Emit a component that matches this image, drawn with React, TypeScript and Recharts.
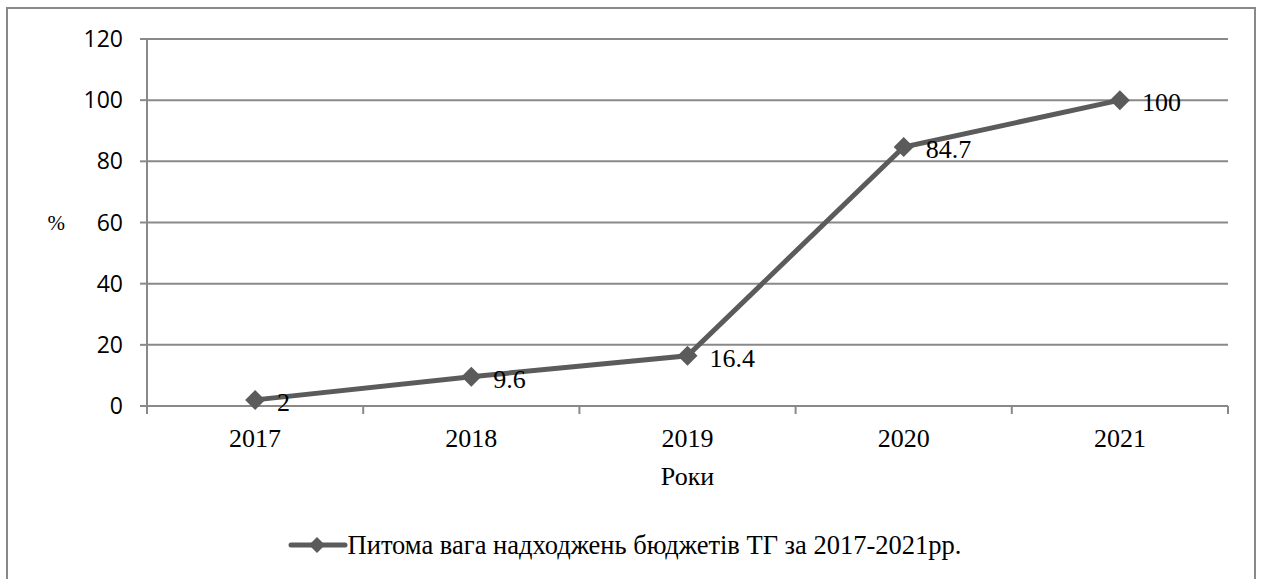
import { LineChart, Line, XAxis, YAxis, CartesianGrid, Legend, LabelList } from "recharts";

const years = ["2017", "2018", "2019", "2020", "2021"];
const shares = [2, 9.6, 16.4, 84.7, 100];
const yTicks = [0, 20, 40, 60, 80, 100, 120];
const seriesName = "Питома вага надходжень бюджетів ТГ за 2017-2021рр.";

const data = years.map((year, i) => ({ year, value: shares[i] }));

const GRID = "#898989";
const LINE = "#5b5b5b";
const SERIF = "'Liberation Serif', 'Times New Roman', serif";
const SANS = "'Open Sans', 'Liberation Sans', sans-serif";
const TICK_GAP = 23; // tickSize + tickMargin of the year axis

const Diamond = (props: any) => {
  const { cx, cy, index } = props;
  const r = 10;
  return (
    <polygon
      key={`d-${index}`}
      points={`${cx},${cy - r} ${cx + r},${cy} ${cx},${cy + r} ${cx - r},${cy}`}
      fill={LINE}
    />
  );
};

// year label with tick marks on the category boundaries (Excel style)
const YearTick = (props: any) => {
  const { x, y, payload, index, visibleTicksCount } = props;
  const half = payload.offset || 0;
  const top = y - TICK_GAP;
  return (
    <g>
      <line x1={x - half} x2={x - half} y1={top} y2={top + 8} stroke={GRID} strokeWidth={2} />
      {index === visibleTicksCount - 1 && (
        <line x1={x + half} x2={x + half} y1={top} y2={top + 8} stroke={GRID} strokeWidth={2} />
      )}
      <text x={x} y={y} dy="0.71em" textAnchor="middle" fontFamily={SERIF} fontSize={26} fill="#000">
        {payload.value}
      </text>
    </g>
  );
};

const LegendBox = () => (
  <div style={{ display: "flex", justifyContent: "center", alignItems: "center", height: 30, paddingRight: 46 }}>
    <svg width={60} height={20}>
      <line x1={3} y1={10} x2={57} y2={10} stroke={LINE} strokeWidth={5} strokeLinecap="round" />
      <polygon points="29,2 37,10 29,18 21,10" fill={LINE} />
    </svg>
    <span style={{ fontFamily: SERIF, fontSize: 26.5, color: "#000" }}>{seriesName}</span>
  </div>
);

const App = () => {
  return (
    <div style={{ position: "absolute", left: 0, top: 0, width: 1262, height: 579, overflow: "hidden", background: "#fff" }}>
      <div
        style={{
          position: "absolute",
          left: 6,
          top: 7,
          width: 1246,
          height: 620,
          border: `2px solid ${GRID}`,
        }}
      />
      <LineChart
        width={1262}
        height={579}
        data={data}
        margin={{ top: 39, right: 34, left: 67, bottom: 19 }}
        style={{ position: "absolute", left: 0, top: 0 }}
      >
        <CartesianGrid vertical={false} stroke={GRID} strokeWidth={2} />
        <XAxis
          dataKey="year"
          scale="band"
          height={124}
          axisLine={{ stroke: GRID, strokeWidth: 2 }}
          tickLine={false}
          tickSize={7}
          tickMargin={16}
          tick={YearTick}
          interval={0}
          label={{ value: "Роки", position: "insideTop", offset: 61, fontFamily: SERIF, fontSize: 26, fill: "#000" }}
        />
        <YAxis
          width={80}
          domain={[0, 120]}
          ticks={yTicks}
          axisLine={{ stroke: GRID, strokeWidth: 2 }}
          tickLine={{ stroke: GRID, strokeWidth: 2 }}
          tickSize={7}
          tickMargin={17}
          tick={{ fontFamily: SANS, fontSize: 23, fill: "#000" }}
          label={{ value: "%", position: "left", offset: 2, fontFamily: SERIF, fontSize: 21, fill: "#000" }}
        />
        <Legend verticalAlign="bottom" align="center" content={LegendBox} />
        <Line
          type="linear"
          dataKey="value"
          name={seriesName}
          stroke={LINE}
          strokeWidth={5}
          dot={Diamond}
          activeDot={false}
          isAnimationActive={false}
        >
          <LabelList dataKey="value" position="right" offset={22} dy={2} fontFamily={SERIF} fontSize={26} fill="#000" />
        </Line>
      </LineChart>
    </div>
  );
};

export default App;
